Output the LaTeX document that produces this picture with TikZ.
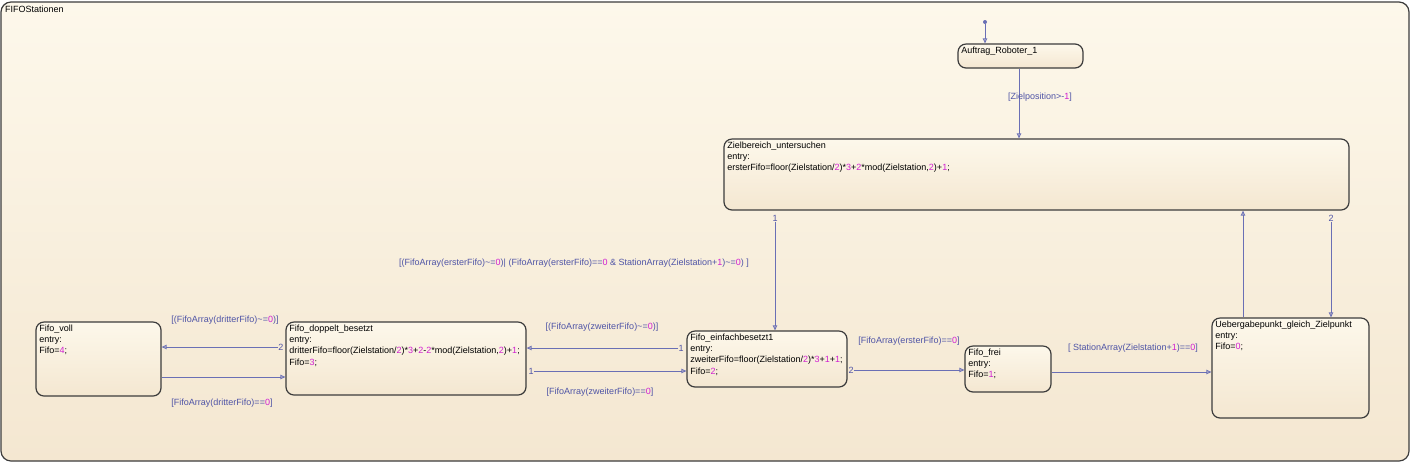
\documentclass[tikz,border=0pt]{standalone}
\usepackage{fontspec}
\setmainfont{Liberation Sans}
\usetikzlibrary{arrows.meta,fit}
\definecolor{bgtop}{HTML}{FDF8EB}
\definecolor{bgbot}{HTML}{F4E7D1}
\definecolor{trc}{HTML}{6A6FB5}
\definecolor{lbl}{HTML}{4F54A6}
\definecolor{mag}{HTML}{D11FD1}
\definecolor{edgec}{HTML}{3C3C3C}
\newcommand\mg[1]{\textcolor{mag}{#1}}
\newcommand\tld{\textasciitilde}
\begin{document}
\begin{tikzpicture}[x=0.5pt,y=-0.5pt,
  stbox/.style={draw=edgec, line width=0.6pt, rounded corners=4pt, top color=bgtop, bottom color=bgbot, inner sep=0pt},
  outerbox/.style={draw=edgec, line width=0.6pt, rounded corners=5pt, top color=bgtop, bottom color=bgbot, inner sep=0pt},
  sttext/.style={anchor=north west, inner sep=0pt, align=left, font=\fontsize{4.5}{5.6}\selectfont, text=black},
  lab/.style={font=\fontsize{4.5}{5.6}\selectfont, text=lbl, inner sep=0pt},
  tr/.style={draw=trc, line width=0.45pt, -{Triangle[open,length=2.5pt,width=2.2pt]}}
]
\fill[white] (0,0) rectangle (1414,463);
\useasboundingbox (0,0) rectangle (1414,463);

% outer chart
\node[outerbox, fit={(1,2) (1409,461)}] (stations) {};
\node[sttext] (title) at ([xshift=2.2pt,yshift=-2.2pt]stations.north west) {FIFOStationen};

% states
\node[stbox, fit={(958,44) (1083,68)}] (auftrag) {};
\node[sttext] (tauftrag) at ([xshift=1.8pt,yshift=-1.6pt]auftrag.north west) {Auftrag\_Roboter\_1};

\node[stbox, fit={(724,139) (1349,210)}] (ziel) {};
\node[sttext] (tziel) at ([xshift=1.8pt,yshift=-1.6pt]ziel.north west) {Zielbereich\_untersuchen\\entry:\\ersterFifo=floor(Zielstation/\mg{2})*\mg{3}+\mg{2}*mod(Zielstation,\mg{2})+\mg{1};};

\node[stbox, fit={(36,322) (161,396)}] (voll) {};
\node[sttext] (tvoll) at ([xshift=1.8pt,yshift=-1.6pt]voll.north west) {Fifo\_voll\\entry:\\Fifo=\mg{4};};

\node[stbox, fit={(286,322) (526,395)}] (doppelt) {};
\node[sttext] (tdoppelt) at ([xshift=1.8pt,yshift=-1.6pt]doppelt.north west) {Fifo\_doppelt\_besetzt\\entry:\\dritterFifo=floor(Zielstation/\mg{2})*\mg{3}+\mg{2}-\mg{2}*mod(Zielstation,\mg{2})+\mg{1};\\Fifo=\mg{3};};

\node[stbox, fit={(687,331) (847,387)}] (einfach) {};
\node[sttext] (teinfach) at ([xshift=1.8pt,yshift=-1.6pt]einfach.north west) {Fifo\_einfachbesetzt1\\entry:\\zweiterFifo=floor(Zielstation/\mg{2})*\mg{3}+\mg{1}+\mg{1};\\Fifo=\mg{2};};

\node[stbox, fit={(965,346) (1051,392)}] (frei) {};
\node[sttext] (tfrei) at ([xshift=1.8pt,yshift=-1.6pt]frei.north west) {Fifo\_frei\\entry:\\Fifo=\mg{1};};

\node[stbox, fit={(1212,318) (1369,418)}] (ueber) {};
\node[sttext] (tueber) at ([xshift=1.8pt,yshift=-1.6pt]ueber.north west) {Uebergabepunkt\_gleich\_Zielpunkt\\entry:\\Fifo=\mg{0};};

% default transition
\node[circle, fill=trc, inner sep=0pt, minimum size=2pt] (dot) at (985,22) {};
\draw[tr] (dot) -- (dot |- auftrag.north);

% helper coordinates
\coordinate (c1019) at (1019,0);
\coordinate (c1243) at (1243,0);
\coordinate (c377) at (0,377);
\coordinate (c372) at (0,372);

% transitions
\draw[tr] (auftrag.south -| c1019) -- (ziel.north -| c1019);
\node[lab] (lz) at (1040,97) {[Zielposition>-\mg{1}]};

\node[lab] (n1z) at (775,218) {1};
\draw[tr] (n1z.south) -- (einfach.north -| n1z);
\node[lab] (lbig) at (574,263) {[(FifoArray(ersterFifo)\tld=\mg{0})| (FifoArray(ersterFifo)==\mg{0} \& StationArray(Zielstation+\mg{1})\tld=\mg{0}) ]};

\node[lab] (n2z) at (1331,218) {2};
\draw[tr] (n2z.south) -- (ueber.north -| n2z);

\draw[tr] (ueber.north -| c1243) -- (ziel.south -| c1243);

\node[lab] (n1e) at (681,348) {1};
\draw[tr] (n1e.west) -- (doppelt.east |- n1e);
\node[lab] (lze1) at (602,327) {[(FifoArray(zweiterFifo)\tld=\mg{0})]};

\node[lab] (n1d) at (531,371) {1};
\draw[tr] (n1d.east) -- (einfach.west |- n1d);
\node[lab] (lze2) at (600,392) {[FifoArray(zweiterFifo)==\mg{0}]};

\node[lab] (n2d) at (281,347) {2};
\draw[tr] (n2d.west) -- (voll.east |- n2d);
\node[lab] (ldr1) at (225,320) {[(FifoArray(dritterFifo)\tld=\mg{0})]};

\draw[tr] (voll.east |- c377) -- (doppelt.west |- c377);
\node[lab] (ldr2) at (222,403) {[FifoArray(dritterFifo)==\mg{0}]};

\node[lab] (n2e) at (851,370) {2};
\draw[tr] (n2e.east) -- (frei.west |- n2e);
\node[lab] (ler) at (909,341) {[FifoArray(ersterFifo)==\mg{0}]};

\draw[tr] (frei.east |- c372) -- (ueber.west |- c372);
\node[lab] (lst) at (1133,348) {[ StationArray(Zielstation+\mg{1})==\mg{0}]};
\end{tikzpicture}
\end{document}
